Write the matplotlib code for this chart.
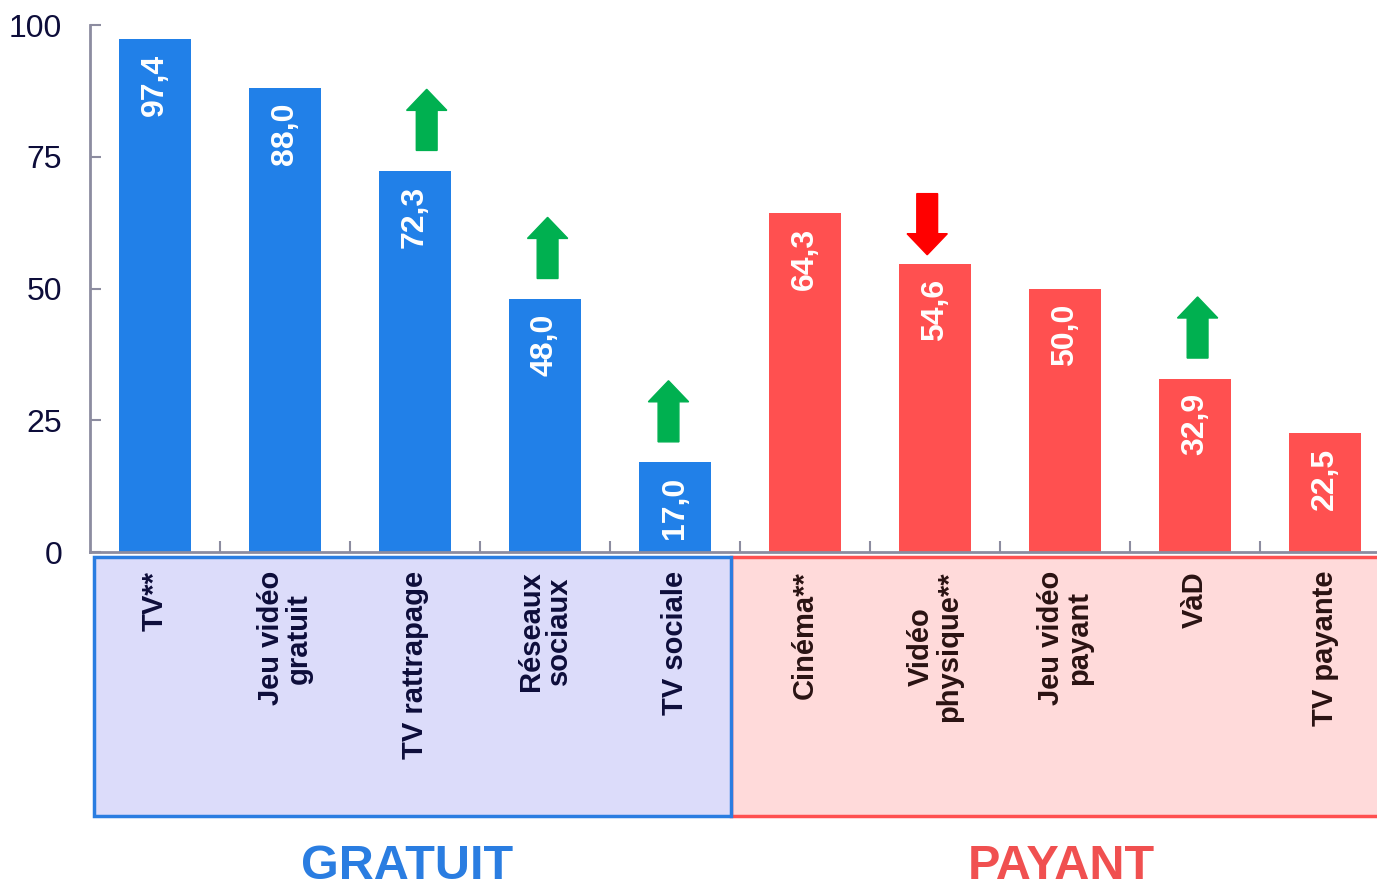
import matplotlib.pyplot as plt
from matplotlib.patches import Rectangle, Polygon

plt.rcParams['font.family'] = ['Liberation Sans', 'DejaVu Sans']

# data
categories = ["TV**", "Jeu vidéo\ngratuit", "TV rattrapage", "Réseaux\nsociaux", "TV sociale",
              "Cinéma**", "Vidéo\nphysique**", "Jeu vidéo\npayant", "VàD", "TV payante"]
values = [97.4, 88.0, 72.3, 48.0, 17.0, 64.3, 54.6, 50.0, 32.9, 22.5]
groups = ["gratuit"] * 5 + ["payant"] * 5
# trend arrows: +1 up (green), -1 down (red), 0 none
trends = [0, 0, 1, 1, 1, 0, -1, 0, 1, 0]
value_labels = ["97,4", "88,0", "72,3", "48,0", "17,0", "64,3", "54,6", "50,0", "32,9", "22,5"]

blue = "#2180e8"
red = "#ff5050"
navy = "#0d0d3a"

# arrows were placed by hand, slightly off the bar centres
arrow_dx = [0, 0, 0.09, 0.02, -0.05, 0, -0.06, 0, 0.02, 0]

fig = plt.figure(figsize=(13.77, 8.88), dpi=100)
ax = fig.add_axes([90 / 1377, 1 - 552 / 888, 1300 / 1377, 527 / 888])

x = list(range(len(values)))
colors = [blue if g == "gratuit" else red for g in groups]
ax.bar(x, values, width=0.56, color=colors, zorder=2)

for i, v in enumerate(values):
    ax.text(i, v - 2.8, value_labels[i], rotation=90, ha="center", va="top",
            color="white", fontsize=23, fontweight="bold", zorder=3)

# trend arrows drawn as polygons above bars
for i, t in enumerate(trends):
    if t == 0:
        continue
    c = i + arrow_dx[i]
    hw, sw, hh, L = 0.155, 0.08, 4.0, 11.6
    if t > 0:
        b = values[i] + 3.9
        pts = [(c - sw, b), (c + sw, b), (c + sw, b + L - hh), (c + hw, b + L - hh),
               (c, b + L), (c - hw, b + L - hh), (c - sw, b + L - hh)]
        col = "#00b050"
    else:
        b = values[i] + 1.8
        pts = [(c, b), (c + hw, b + hh), (c + sw, b + hh), (c + sw, b + L),
               (c - sw, b + L), (c - sw, b + hh), (c - hw, b + hh)]
        col = "#ff0000"
    ax.add_patch(Polygon(pts, closed=True, color=col, zorder=3))

ax.set_xlim(-0.5, 9.5)
ax.set_ylim(0, 100)
ax.set_yticks([0, 25, 50, 75, 100])
ax.set_xticks([k + 0.5 for k in range(9)])
ax.set_xticklabels([])
ax.tick_params(axis="both", direction="in", length=8, width=1.5, color="#8c8ca0")
ax.tick_params(axis="y", labelsize=23, labelcolor=navy, pad=20)
for s in ["top", "right"]:
    ax.spines[s].set_visible(False)
for s in ["left", "bottom"]:
    ax.spines[s].set_color("#8c8ca0")
    ax.spines[s].set_linewidth(2)

# group boxes below the axis
ax.add_patch(Rectangle((4.43, -50), 5.3, 49, facecolor="#ffdada", edgecolor=red,
                       linewidth=2.5, clip_on=False, zorder=1))
ax.add_patch(Rectangle((-0.47, -50), 4.9, 49, facecolor="#dcdcfa", edgecolor="#2a7de1",
                       linewidth=2.5, clip_on=False, zorder=1))

for i, c in enumerate(categories):
    tc = navy if groups[i] == "gratuit" else "#2a1212"
    ax.text(i, -3.6, c, rotation=90, ha="center", va="top", multialignment="center",
            fontsize=21, fontweight="bold", color=tc, clip_on=False, linespacing=1.0)

ax.text(1.94, -62.0, "GRATUIT", ha="center", va="baseline", fontsize=35,
        fontweight="bold", color="#2a7de1", clip_on=False)
ax.text(6.97, -62.0, "PAYANT", ha="center", va="baseline", fontsize=35,
        fontweight="bold", color="#f05050", clip_on=False)

fig.savefig("out.png", dpi=100)
